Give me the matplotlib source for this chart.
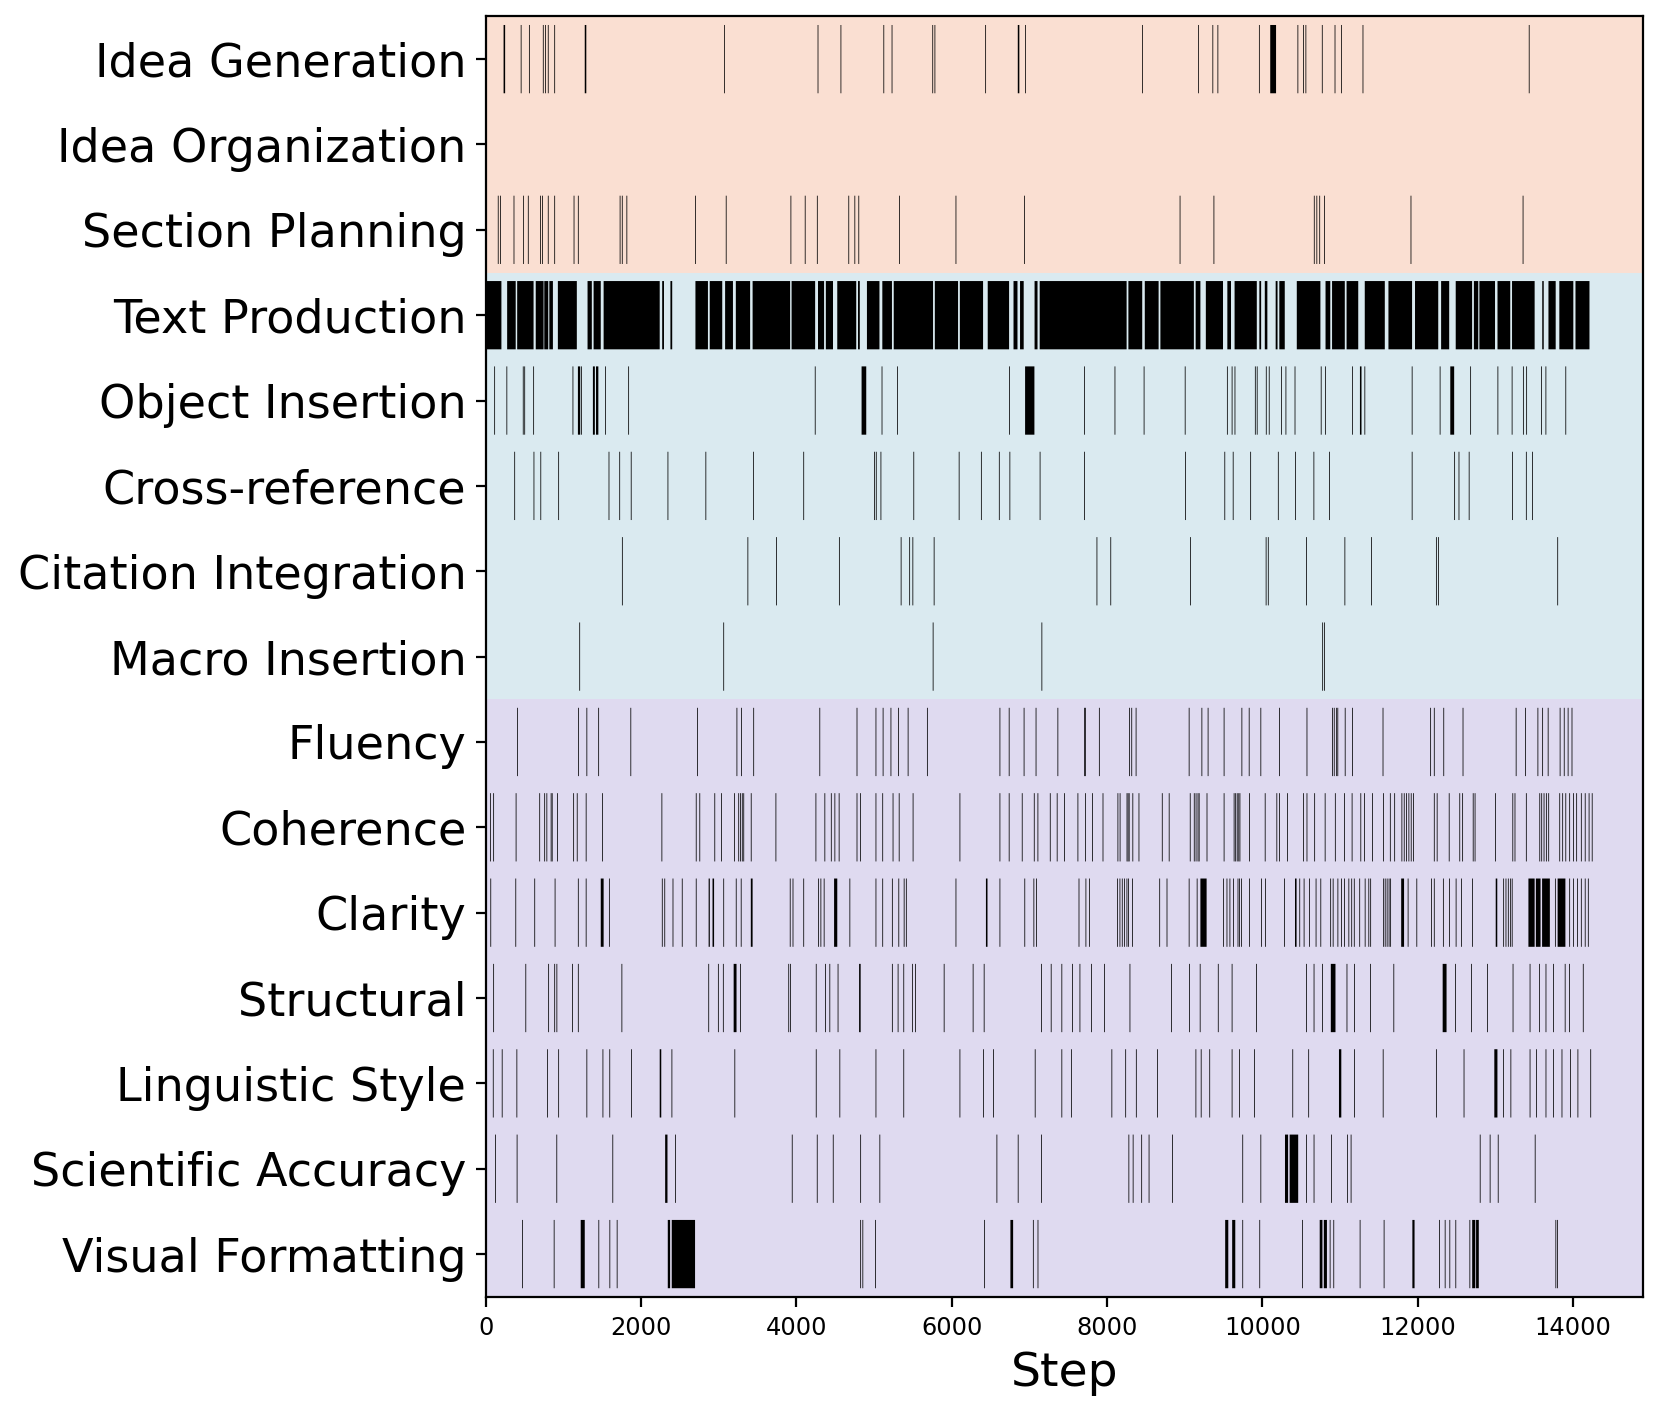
"""Timeline of writing actions per category across revision steps."""

from __future__ import annotations

import matplotlib

matplotlib.use("Agg")
import matplotlib.pyplot as plt

categories = [
    "Idea Generation", "Idea Organization", "Section Planning",
    "Text Production", "Object Insertion", "Cross-reference",
    "Citation Integration", "Macro Insertion",
    "Fluency", "Coherence", "Clarity", "Structural",
    "Linguistic Style", "Scientific Accuracy", "Visual Formatting",
]
# number of rows in each stage: planning / implementation / revision
group_sizes = [3, 5, 7]
group_colors = ["#f1a67e", "#95c3d4", "#a495d4"]

# single action steps per category
idea_generation = [451, 557, 736, 764, 800, 883, 3068, 4273, 4568, 5120, 5226, 5750, 5778,
                   6431, 6944, 8452, 9173, 9356, 9421, 9955, 10451, 10522, 10554, 10765,
                   10929, 11013, 11289, 13429]
idea_organization = []
section_planning = [156, 184, 359, 483, 543, 699, 727, 800, 883, 1132, 1187, 1725, 1753, 1812,
                    2696, 3091, 3924, 4108, 4264, 4669, 4747, 4798, 5322, 6049, 6930, 8934,
                    9370, 10662, 10695, 10732, 10793, 11907, 13350]
text_production = []
object_insertion = [110, 267, 478, 497, 612, 1118, 1228, 1536, 1835, 4237, 5097, 5295, 6738,
                    7703, 8096, 8471, 9000, 9543, 9604, 9641, 9903, 9927, 10044, 10082, 10241,
                    10297, 10414, 10751, 10807, 11154, 11313, 11922, 12282, 12675, 13026,
                    13209, 13354, 13396, 13588, 13644, 13900]
cross_reference = [368, 616, 704, 934, 1582, 1720, 1868, 2341, 2829, 3441, 4089, 5000, 5023,
                   5083, 5506, 6090, 6376, 6607, 6743, 7132, 7703, 9005, 9510, 9618, 9843,
                   10199, 10419, 10657, 10859, 11922, 12469, 12525, 12656, 13213, 13392, 13471]
citation_integration = [1754, 3370, 3740, 4548, 5343, 5453, 5494, 5768, 7864, 8042, 9069,
                        10042, 10070, 10563, 11056, 11398, 12234, 12262, 13796]
macro_insertion = [1205, 3059, 5755, 7155, 10770, 10793]
fluency = [405, 1191, 1297, 1449, 1863, 2723, 3229, 3289, 3445, 4296, 4775, 5019, 5111, 5212,
           5308, 5433, 5681, 6615, 6734, 6926, 7080, 7361, 7703, 7717, 7895, 8284, 8312, 8368,
           9051, 9215, 9295, 9501, 9730, 9824, 9974, 10213, 10568, 10896, 10919, 10950, 10965,
           11060, 11154, 11547, 12160, 12207, 12329, 12577, 13261, 13382, 13541, 13602, 13673,
           13827, 13880, 13930, 13980]
coherence = [55, 97, 386, 690, 754, 782, 837, 851, 920, 1127, 1173, 1288, 1500, 2263, 2705,
             2751, 2944, 3031, 3197, 3252, 3275, 3298, 3317, 3413, 3731, 4246, 4361, 4444,
             4490, 4545, 4775, 4821, 5019, 5106, 5239, 5318, 5497, 6100, 6615, 6734, 6902,
             7057, 7104, 7263, 7352, 7445, 7619, 7717, 7806, 7942, 8134, 8162, 8251, 8265,
             8279, 8326, 8405, 8705, 8794, 9065, 9117, 9140, 9165, 9180, 9281, 9501, 9630,
             9650, 9670, 9690, 9705, 9828, 10030, 10180, 10213, 10316, 10522, 10568, 10667,
             10802, 10933, 11051, 11149, 11261, 11308, 11411, 11552, 11641, 11697, 11790,
             11820, 11850, 11880, 11910, 11940, 12207, 12244, 12399, 12535, 12572, 12708,
             12732, 12994, 13218, 13246, 13392, 13565, 13590, 13620, 13650, 13680, 13822,
             13860, 13900, 13950, 14000, 14040, 14100, 14150, 14200, 14240]
clarity = [60, 382, 626, 888, 1187, 1288, 1587, 2268, 2300, 2406, 2525, 2705, 3059, 3220,
           3284, 3915, 3951, 4089, 4278, 4310, 4352, 4683, 5019, 5106, 5230, 5313, 5382, 5410,
           6049, 6615, 6935, 7052, 7085, 7633, 7722, 7768, 8130, 8160, 8190, 8220, 8250, 8270,
           8321, 8672, 8766, 9051, 9154, 9492, 9538, 9576, 9623, 9680, 9700, 9725, 9828, 9983,
           10035, 10278, 10475, 10531, 10601, 10685, 10746, 10873, 10905, 10966, 11013, 11051,
           11107, 11144, 11177, 11247, 11317, 11364, 11388, 11555, 11575, 11600, 11625, 11645,
           11870, 11982, 12170, 12207, 12324, 12404, 12488, 12558, 12699, 13100, 13130, 13160,
           13190, 13210, 13766, 13950, 14000, 14050, 14100, 14150, 14190]
structural = [97, 511, 805, 883, 911, 1113, 1187, 1748, 2866, 2990, 3054, 3275, 3896, 3919,
              4250, 4370, 4425, 4531, 5230, 5304, 5377, 5488, 5529, 5897, 6270, 6412, 7151,
              7275, 7412, 7549, 7645, 7795, 7960, 8289, 8823, 9056, 9193, 9426, 9604, 9919,
              10563, 10659, 10768, 11083, 11179, 11385, 11686, 12481, 12686, 12892, 13221,
              13440, 13563, 13645, 13741, 13892, 13947, 14125]
linguistic_style = [92, 207, 396, 791, 934, 1297, 1504, 1592, 1872, 2392, 3202, 4250, 4554,
                    5019, 5377, 6100, 6403, 6532, 7069, 7412, 7535, 8056, 8234, 8371, 8645,
                    9138, 9206, 9316, 9604, 9700, 9891, 10385, 10590, 11179, 11549, 12234,
                    12590, 13097, 13193, 13440, 13522, 13645, 13741, 13851, 13960, 14056, 14221]
scientific_accuracy = [120, 399, 910, 1631, 2438, 3941, 4263, 4469, 4822, 5069, 6576, 6850,
                       7151, 8275, 8330, 8440, 8535, 8837, 9741, 9974, 10563, 10659, 10883,
                       11089, 11136, 12798, 12926, 13030, 13506]
visual_formatting = [468, 876, 1451, 1593, 1687, 4822, 4850, 5014, 6418, 7045, 7105, 9741, 9960,
                     10509, 10866, 10913, 11252, 11561, 12274, 12347, 12407, 12484, 12665,
                     13772, 13794]

# longer runs of consecutive actions: (start step, length in steps)
idea_generation_runs = [(230, 20), (1275, 20), (6850, 20), (10100, 75)]
text_production_runs = [
    (9, 193), (276, 110), (405, 211), (644, 101), (754, 51), (819, 46), (929, 244),
    (1311, 55), (1389, 92), (1518, 722), (2272, 23), (2378, 23), (2700, 161), (2884, 161),
    (3082, 101), (3220, 184), (3436, 483), (3938, 303), (4278, 78), (4379, 92), (4526, 244),
    (4793, 23), (4908, 161), (5106, 124), (5253, 506), (5782, 299), (6104, 299), (6463, 275),
    (6795, 51), (6879, 47), (7066, 38), (7132, 1119), (8274, 178), (8485, 178), (8686, 431),
    (9140, 61), (9271, 221), (9548, 47), (9641, 286), (9960, 23), (10030, 33), (10170, 24),
    (10217, 70), (10442, 304), (10812, 61), (10896, 164), (11083, 150), (11317, 258),
    (11622, 304), (11964, 299), (12300, 104), (12488, 211), (12722, 56), (12793, 201),
    (13026, 164), (13213, 291), (13602, 19), (13682, 93), (13822, 180), (14030, 180),
]
object_insertion_runs = [(1187, 30), (1380, 25), (1420, 30), (4839, 60), (6944, 120),
                         (11255, 20), (12418, 50)]
clarity_runs = [(1481, 37), (2870, 15), (2920, 20), (3413, 23), (4485, 41), (6440, 20),
                (9201, 80), (10419, 20), (11786, 37), (13003, 20), (13424, 80), (13520, 60),
                (13600, 100), (13800, 100)]
structural_runs = [(3192, 37), (4807, 20), (10880, 60), (12320, 50)]
linguistic_style_runs = [(2240, 20), (10985, 30), (12985, 40)]
scientific_accuracy_runs = [(2310, 30), (10290, 40), (10350, 110)]
visual_formatting_runs = [(1223, 52), (2344, 30), (2395, 300), (6755, 35), (9520, 40),
                          (9610, 40), (10737, 35), (10790, 40), (11930, 28), (12700, 40),
                          (12750, 35)]

EVENT_WIDTH = 10
X_MAX = 14900


def main() -> None:
    singles = [
        idea_generation, idea_organization, section_planning, text_production,
        object_insertion, cross_reference, citation_integration, macro_insertion,
        fluency, coherence, clarity, structural, linguistic_style,
        scientific_accuracy, visual_formatting,
    ]
    runs = {
        0: idea_generation_runs, 3: text_production_runs, 4: object_insertion_runs,
        10: clarity_runs, 11: structural_runs, 12: linguistic_style_runs,
        13: scientific_accuracy_runs, 14: visual_formatting_runs,
    }

    fig, ax = plt.subplots(figsize=(8.3, 7.03), dpi=200)
    fig.subplots_adjust(left=0.2926, right=0.9898, top=0.9883, bottom=0.0777)

    row_colors = []
    for color, size in zip(group_colors, group_sizes):
        row_colors.extend([color] * size)
    for row, color in enumerate(row_colors):
        ax.axhspan(row - 0.5, row + 0.5, color=color, alpha=0.35, lw=0)

    for row, steps in enumerate(singles):
        bars = [(s, EVENT_WIDTH) for s in steps] + runs.get(row, [])
        if not bars:
            continue
        coll = ax.broken_barh(bars, (row - 0.4, 0.8), facecolors="black", lw=0)
        coll.set_snap(False)

    ax.set_yticks(range(len(categories)))
    ax.set_yticklabels(categories, fontsize=16.6)
    ax.set_ylim(len(categories) - 0.5, -0.5)
    ax.set_xlim(0, X_MAX)
    ax.set_xticks(range(0, 14001, 2000))
    ax.tick_params(axis="x", labelsize=8.7)
    ax.set_xlabel("Step", fontsize=17)
    fig.savefig("out.png", dpi=200)
    plt.close(fig)


if __name__ == "__main__":
    main()
